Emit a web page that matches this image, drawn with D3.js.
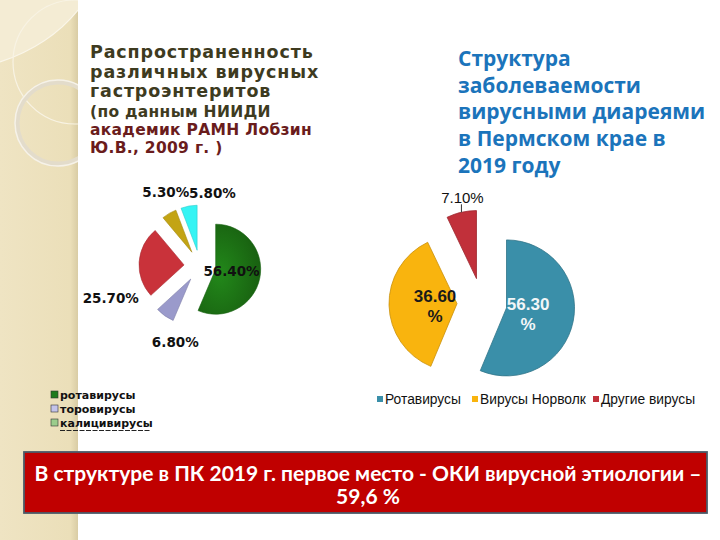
<!DOCTYPE html>
<html><head><meta charset="utf-8">
<script src="https://cdn.jsdelivr.net/npm/d3@7"></script>
<style>html,body{margin:0;padding:0;background:#fff;}svg{display:block;}</style>
</head><body>
<svg id="c" width="720" height="540"></svg>
<script>
// ---- data ----
const leftCategories = ["ротавирусы", "торовирусы", "калицивирусы", "астровирусы", "аденовирусы"];
const leftValues = [56.4, 6.8, 25.7, 5.3, 5.8];
const leftColors = ["#1c7414", "#9a9acb", "#c9323a", "#c3a414", "#35f4f4"];
const leftLegendColors = ["#1e7a1e", "#c4c4ea", "#9bcc8c"];
const rightCategories = ["Ротавирусы", "Вирусы Норволк", "Другие вирусы"];
const rightValues = [56.3, 36.6, 7.1];
const rightColors = ["#3a8fa9", "#f9b40e", "#c1303a"];
const leftTitle = ["Распространенность", "различных вирусных", "гастроэнтеритов"];
const leftSub = ["(по данным НИИДИ", "академик РАМН Лобзин", "Ю.В., 2009 г. )"];
const rightTitle = ["Структура", "заболеваемости", "вирусными диареями", "в Пермском крае в", "2019 году"];
const boxText = ["В структуре в ПК 2019 г. первое место - ОКИ вирусной этиологии –", "59,6 %"];

const fmt = v => v.toFixed(2) + "%";
const svg = d3.select("#c");
const defs = svg.append("defs");

// ---- left decorative band ----
defs.append("clipPath").attr("id", "band").append("rect").attr("x", 0).attr("y", 0).attr("width", 78).attr("height", 540);
const bg = defs.append("linearGradient").attr("id", "bandg").attr("x1", 0).attr("x2", 1);
bg.append("stop").attr("offset", 0).attr("stop-color", "#efe4c3");
bg.append("stop").attr("offset", 0.9).attr("stop-color", "#ebdfb9");
bg.append("stop").attr("offset", 1).attr("stop-color", "#d9cca4");
const band = svg.append("g").attr("clip-path", "url(#band)");
band.append("rect").attr("width", 78).attr("height", 540).attr("fill", "url(#bandg)");
band.append("path").attr("d", "M0,0 L78,0 L78,10 Q50,45 0,62 Z").attr("fill", "#f4ecd4");
band.append("path").attr("d", "M0,62 Q50,45 78,10").attr("fill", "none").attr("stroke", "#faf6ea").attr("stroke-width", 1.2);
band.append("circle").attr("cx", 75).attr("cy", 62).attr("r", 62).attr("fill", "none").attr("stroke", "#f8f3e4").attr("stroke-width", 1.2);
band.append("circle").attr("cx", 58).attr("cy", 123).attr("r", 41).attr("fill", "none").attr("stroke", "#e3dccb").attr("stroke-width", 5);
band.append("circle").attr("cx", 58).attr("cy", 123).attr("r", 43).attr("fill", "none").attr("stroke", "#f6f2e8").attr("stroke-width", 1.5);

// ---- left titles ----
const lt = svg.append("g").attr("font-family", "DejaVu Sans").attr("font-weight", "bold");
const ltY = [58, 77.5, 97];
lt.selectAll("text.t").data(leftTitle).join("text").attr("class", "t")
  .attr("x", 90).attr("y", (d, i) => ltY[i]).attr("font-size", 17.5).attr("letter-spacing", 0.85)
  .attr("fill", "#3e3b1f").text(d => d);
lt.selectAll("text.s").data(leftSub).join("text").attr("class", "s")
  .attr("x", 90).attr("y", (d, i) => 117 + i * 18).attr("font-size", 15.5).attr("letter-spacing", 0.3)
  .attr("fill", (d, i) => i === 0 ? "#3e3b1f" : "#6a1c1c").text(d => d);

// ---- left pie ----
const lc = [200, 266], lr = 45, lex = 16;
const pie = d3.pie().sort(null).value(d => d);
const lArcs = pie(leftValues);
const arcL = d3.arc().innerRadius(0).outerRadius(lr);
const gg = defs.append("radialGradient").attr("id", "gg").attr("cx", "0.35").attr("cy", "0.55").attr("r", "0.75");
gg.append("stop").attr("offset", 0).attr("stop-color", "#22881a");
gg.append("stop").attr("offset", 1).attr("stop-color", "#175a0f");
const lp = svg.append("g").attr("transform", `translate(${lc[0]},${lc[1]})`);
lp.selectAll("path").data(lArcs).join("path")
  .attr("transform", d => { const m = (d.startAngle + d.endAngle) / 2; return `translate(${lex * Math.sin(m)},${-lex * Math.cos(m)})`; })
  .attr("d", arcL).attr("fill", (d, i) => i === 0 ? "url(#gg)" : leftColors[i])
  .attr("stroke", (d, i) => d3.color(leftColors[i]).darker(0.5)).attr("stroke-width", 0.6);
// label layout (angle deg clockwise from top, distance)
const lLab = [[100, 32], [198, 80], [250, 95], [335, 81], [9.7, 74]];
lp.selectAll("text").data(lArcs).join("text")
  .attr("x", (d, i) => lLab[i][1] * Math.sin(lLab[i][0] * Math.PI / 180))
  .attr("y", (d, i) => -lLab[i][1] * Math.cos(lLab[i][0] * Math.PI / 180))
  .attr("dy", "0.36em").attr("text-anchor", "middle")
  .attr("font-family", "DejaVu Sans").attr("font-weight", "bold").attr("font-size", 13.5).attr("fill", "#111")
  .text(d => fmt(d.data));

// ---- left legend ----
const li = svg.append("g").selectAll("g").data(leftCategories.slice(0, 3)).join("g")
  .attr("transform", (d, i) => `translate(51,${391 + i * 14})`);
li.append("rect").attr("width", 7).attr("height", 7).attr("fill", (d, i) => leftLegendColors[i]).attr("stroke", "#333").attr("stroke-width", 0.6);
li.append("text").attr("x", 9).attr("y", 7.5).attr("font-family", "DejaVu Sans").attr("font-weight", "bold").attr("font-size", 11).attr("fill", "#111").text(d => d);
svg.append("line").attr("x1", 60).attr("x2", 150).attr("y1", 430.5).attr("y2", 430.5)
  .attr("stroke", "#222").attr("stroke-width", 1).attr("stroke-dasharray", "5,1.5");

// ---- right title ----
svg.append("g").selectAll("text").data(rightTitle).join("text")
  .attr("x", 458).attr("y", (d, i) => 66 + i * 26.7)
  .attr("font-family", "Open Sans").attr("font-weight", "bold").attr("font-size", 21).attr("fill", "#1b74bb").text(d => d);

// ---- right pie ----
const rc = [482, 303], rr = 68, rex = 25;
const rArcs = pie(rightValues);
const arcR = d3.arc().innerRadius(0).outerRadius(rr);
const rp = svg.append("g").attr("transform", `translate(${rc[0]},${rc[1]})`);
const mid = d => (d.startAngle + d.endAngle) / 2;
rp.selectAll("path").data(rArcs).join("path")
  .attr("transform", d => `translate(${rex * Math.sin(mid(d))},${-rex * Math.cos(mid(d))})`)
  .attr("d", arcR).attr("fill", (d, i) => rightColors[i])
  .attr("stroke", (d, i) => d3.color(rightColors[i]).darker(0.6)).attr("stroke-width", 0.8);
// inside labels (two lines)
const inner = rp.selectAll("g.lab").data(rArcs.slice(0, 2)).join("g").attr("class", "lab")
  .attr("transform", d => `translate(${47 * Math.sin(mid(d))},${-47 * Math.cos(mid(d))})`);
inner.append("text").attr("text-anchor", "middle").attr("y", -2)
  .attr("font-family", "Liberation Sans").attr("font-weight", "bold").attr("font-size", 17)
  .attr("fill", (d, i) => i === 0 ? "#f2f6f8" : "#1a1a1a").text(d => d.data.toFixed(2));
inner.append("text").attr("text-anchor", "middle").attr("y", 18)
  .attr("font-family", "Liberation Sans").attr("font-weight", "bold").attr("font-size", 17)
  .attr("fill", (d, i) => i === 0 ? "#f2f6f8" : "#1a1a1a").text("%");
// outside label for small slice
const o = rArcs[2], om = mid(o);
rp.append("line")
  .attr("x1", (rex + rr) * Math.sin(om)).attr("y1", -(rex + rr) * Math.cos(om))
  .attr("x2", (rex + rr) * Math.sin(om)).attr("y2", -(rex + rr) * Math.cos(om) - 8)
  .attr("stroke", "#333").attr("stroke-width", 1);
rp.append("text").attr("x", (rex + rr) * Math.sin(om) + 1).attr("y", -(rex + rr) * Math.cos(om) - 9)
  .attr("text-anchor", "middle").attr("font-family", "Liberation Sans").attr("font-size", 15).attr("fill", "#111")
  .text(fmt(o.data));

// ---- right legend ----
const rlX = [377, 472, 593];
const rl = svg.append("g").selectAll("g").data(rightCategories).join("g")
  .attr("transform", (d, i) => `translate(${rlX[i]},396)`);
rl.append("rect").attr("width", 6).attr("height", 6).attr("fill", (d, i) => rightColors[i]);
rl.append("text").attr("x", 8).attr("y", 8).attr("font-family", "Liberation Sans").attr("font-size", 13.8).attr("fill", "#111").text(d => d);

// ---- bottom box ----
svg.append("rect").attr("x", 24).attr("y", 452).attr("width", 683).attr("height", 61)
  .attr("fill", "#c00000").attr("stroke", "#4b5a68").attr("stroke-width", 1.8);
svg.append("g").selectAll("text").data(boxText).join("text")
  .attr("x", 368).attr("y", (d, i) => 481 + i * 23).attr("text-anchor", "middle")
  .attr("font-family", "Lato").attr("font-weight", "bold").attr("font-size", 21).attr("fill", "#fff").text(d => d);
</script>
</body></html>
